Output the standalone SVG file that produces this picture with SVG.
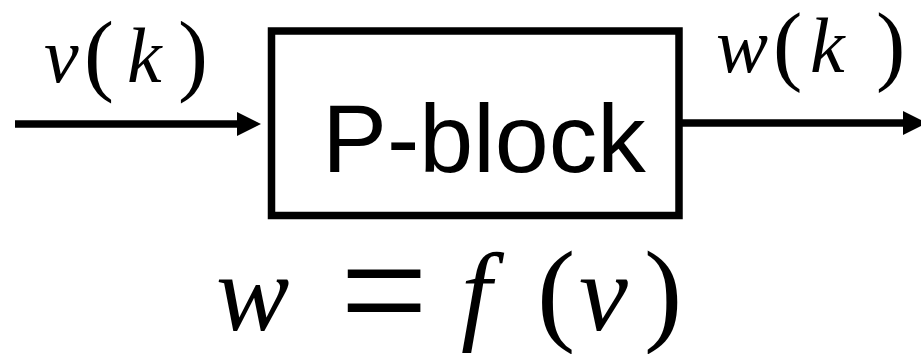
<svg xmlns="http://www.w3.org/2000/svg" width="921" height="354" viewBox="0 0 921 354">
<defs>
<style>
.ln{stroke:#000;stroke-width:7.5;fill:none}
.m{font-family:"Liberation Serif","Times New Roman",serif;font-style:italic;fill:#000}
.p{font-family:"Liberation Serif","Times New Roman",serif;fill:#000}
.s{font-family:"Liberation Sans",Arial,sans-serif;fill:#000}
</style>
</defs>
<rect width="921" height="354" fill="#fff"/>
<g id="connectors">
<line class="ln" x1="15" y1="124" x2="240" y2="124"/>
<polygon points="237,112 261,124 237,136" fill="#000"/>
<line class="ln" x1="682" y1="123" x2="905" y2="123"/>
<polygon points="903,111 927,123 903,135" fill="#000"/>
</g>
<g id="label-v">
<text class="m" x="44" y="82" font-size="78">v</text>
<text class="p" x="84" y="84" font-size="90">(</text>
<text class="m" x="127" y="82" font-size="78">k</text>
<text class="p" x="178" y="84" font-size="90">)</text>
</g>
<g id="label-w">
<text class="m" x="716" y="72" font-size="78">w</text>
<text class="p" x="773" y="74" font-size="88">(</text>
<text class="m" x="810" y="72" font-size="78">k</text>
<text class="p" x="876" y="74" font-size="88">)</text>
</g>
<g id="pblock">
<rect class="ln" x="271.5" y="31" width="407.5" height="184.5"/>
<text class="s" x="484" y="172" font-size="97" text-anchor="middle">P-block</text>
</g>
<g id="equation">
<text class="m" x="216" y="330" font-size="110">w</text>
<text class="p" x="340" y="347" font-size="170" textLength="88" lengthAdjust="spacingAndGlyphs">=</text>
<text class="m" x="461" y="330" font-size="110">f</text>
<text class="p" x="537" y="330" font-size="115">(</text>
<text class="m" x="579" y="330" font-size="110">v</text>
<text class="p" x="644" y="330" font-size="115">)</text>
</g>
</svg>
